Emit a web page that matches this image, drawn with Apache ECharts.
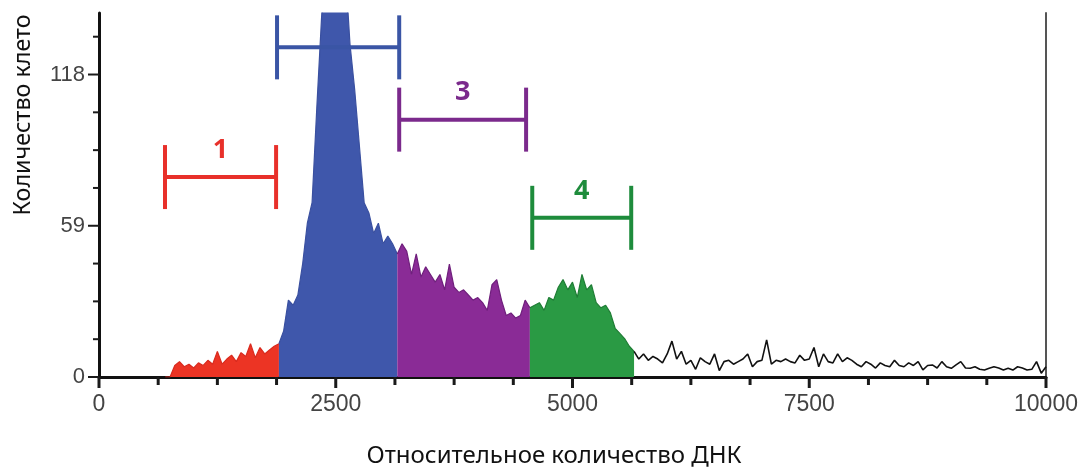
<!DOCTYPE html>
<html>
<head>
<meta charset="utf-8">
<script src="https://cdn.jsdelivr.net/npm/echarts@6/dist/echarts.min.js"></script>
<style>
html,body{margin:0;padding:0;background:#fff;}
#chart{width:1089px;height:472px;}
</style>
</head>
<body>
<div id="chart"></div>
<script>
// ---- data ----
var binWidth = 50;                 // DNA units per histogram bin
var redStart = 700;
var redCounts = [0, 0, 4.5, 6, 4, 5, 3.5, 5.5, 4.5, 6.5, 5, 10, 5, 7, 8.5, 6, 9.5, 8, 13, 7.5, 11.5, 9, 10.5, 12, 13];
var blueStart = 1900;
var blueCounts = [13, 18, 30, 28, 32, 44, 60, 68, 105, 140, 170, 185, 190, 180, 160, 130, 112, 90, 68, 64, 56, 60, 52, 55, 52, 48];
var purpleStart = 3150;
var purpleCounts = [48, 52, 49, 40, 48, 39, 43, 40, 37, 40, 34, 44, 35, 33, 34, 32, 30, 31, 29, 26, 36, 38, 30, 24, 25, 23, 24, 30, 27];
var greenStart = 4550;
var greenCounts = [27, 28, 29, 26, 31, 30, 35, 38, 34, 37, 31, 40, 34, 36, 29, 27, 28, 25, 19, 17, 15, 12, 10];
var tailStart = 5650;
var tailCounts = [10, 7, 9, 6.5, 8, 7, 5.5,
  9, 14, 7, 10, 5, 6.5, 3, 7.5, 6, 5,
  9, 2.5, 6, 6.5, 5, 6, 7, 9, 4, 6,
  6.5, 14.5, 5, 6.5, 6, 7, 6, 5.5, 8.5, 6.5,
  7, 11.5, 4, 9, 6, 5.5, 9, 6, 7.5, 6.5,
  5, 4, 6, 5, 3.5, 5.5, 4.5, 4, 6.5, 4.5,
  4, 5.5, 4.5, 6, 2.8, 4.5, 4.7, 3.5, 6, 4,
  3.4, 4.7, 6, 3.5, 3.4, 4, 3, 2.7, 3.4, 4,
  3.5, 2.7, 3.4, 2.7, 4, 3.5, 2.7, 3, 6, 1.5,
  4];

// gates (brackets): start, end, level (cell count), label
var gateStarts = [697, 1880, 3170, 4575];
var gateEnds = [1870, 3170, 4510, 5620];
var gateLevels = [78, 128.6, 100.4, 62.1];
var gateLabels = ['1', '', '3', '4'];

var xTickValues = [0, 2500, 5000, 7500, 10000];
var xMinorTickValues = [625, 1250, 1875, 3125, 3750, 4375, 5625, 6250, 6875, 8125, 8750, 9375];
var yTickValues = [0, 59, 118];
var yMinorTickValues = [14.75, 29.5, 44.25, 73.75, 88.5, 103.25, 132.75];
var xMin = 0, xMax = 10000, yMin = 0, yMax = 142;

var xTitle = 'Относительное количество ДНК';
var yTitle = 'Количество клето';

// ---- build ----
function toPoints(start, counts) {
  return counts.map(function (c, i) { return [start + i * binWidth, c]; });
}
var gateColors = ['#e8302a', '#3a55a5', '#7b2a8c', '#1e8c3c'];

function areaSeries(name, pts, fill, stroke) {
  return {
    name: name, type: 'line', data: pts, showSymbol: false, symbol: 'none',
    smooth: false, clip: true, animation: false, z: 2,
    lineStyle: { color: stroke, width: 1.2 },
    areaStyle: { color: fill, opacity: 1 }
  };
}

var MAJOR = 1, MINOR = 0;
var xTickData = xTickValues.map(function (v) { return [v, yMin, MAJOR]; })
  .concat(xMinorTickValues.map(function (v) { return [v, yMin, MINOR]; }));
var yTickData = yTickValues.map(function (v) { return [xMin, v, MAJOR]; })
  .concat(yMinorTickValues.map(function (v) { return [xMin, v, MINOR]; }));
var tickFill = { fill: '#1a1a1a' };

var gateData = gateStarts.map(function (s, i) { return [s, gateEnds[i], gateLevels[i], i]; });
var plain = function (v) { return String(v); };

var chart = echarts.init(document.getElementById('chart'), null, { renderer: 'canvas' });
chart.setOption({
  animation: false,
  backgroundColor: '#fff',
  grid: { left: 99, right: 43, top: 13, bottom: 95 },
  xAxis: [{
    type: 'value', min: xMin, max: xMax, position: 'bottom',
    axisLine: { show: true, onZero: false, lineStyle: { color: '#111', width: 3 } },
    axisTick: { show: false },
    axisLabel: { fontSize: 23, color: '#444', margin: 16, fontFamily: 'Liberation Sans',
      customValues: xTickValues, formatter: plain },
    splitLine: { show: false }
  }],
  yAxis: [{
    type: 'value', min: yMin, max: yMax, position: 'left',
    axisLine: { show: true, onZero: false, lineStyle: { color: '#111', width: 3 } },
    axisTick: { show: false },
    axisLabel: { fontSize: 22, color: '#444', margin: 14, fontFamily: 'Liberation Sans',
      customValues: yTickValues, formatter: plain },
    splitLine: { show: false }
  }, {
    type: 'value', min: yMin, max: yMax, position: 'right', offset: 0,
    axisLine: { show: true, onZero: false, lineStyle: { color: '#555', width: 2 } },
    axisTick: { show: false }, axisLabel: { show: false }, splitLine: { show: false }
  }],
  graphic: [{
    type: 'text', x: 23, y: 115, rotation: Math.PI / 2,
    style: { text: yTitle, fontSize: 23.3, fontFamily: 'Noto Sans', fill: '#111',
      align: 'center', verticalAlign: 'middle' }
  }, {
    type: 'text', x: 554, y: 456,
    style: { text: xTitle, fontSize: 24, fontFamily: 'Noto Sans', fill: '#111',
      align: 'center', verticalAlign: 'middle' }
  }],
  series: [
    areaSeries('1', toPoints(redStart, redCounts), '#ec3424', '#d92a1e'),
    areaSeries('2', toPoints(blueStart, blueCounts), '#3f57ab', '#3a50a0'),
    areaSeries('3', toPoints(purpleStart, purpleCounts), '#8a2b96', '#6f1f7c'),
    areaSeries('4', toPoints(greenStart, greenCounts), '#2a9a44', '#1f7d35'),
    {
      name: 'tail', type: 'line', data: toPoints(tailStart, tailCounts),
      showSymbol: false, symbol: 'none', animation: false, z: 2,
      lineStyle: { color: '#111', width: 1.6 }
    },
    {
      name: 'xTicks', type: 'custom', data: xTickData, clip: false, silent: true,
      z: 20, animation: false, encode: { x: 0, y: 1 },
      renderItem: function (params, api) {
        var p = api.coord([api.value(0), api.value(1)]);
        var len = api.value(2) === MAJOR ? 11 : 8;
        return { type: 'rect', shape: { x: p[0] - 1.5, y: p[1], width: 3, height: len }, style: tickFill, z2: 100 };
      }
    },
    {
      name: 'yTicks', type: 'custom', data: yTickData, clip: false, silent: true,
      z: 20, animation: false, encode: { x: 0, y: 1 },
      renderItem: function (params, api) {
        var p = api.coord([api.value(0), api.value(1)]);
        var len = api.value(2) === MAJOR ? 11 : 6;
        return { type: 'rect', shape: { x: p[0] - len, y: p[1] - 1, width: len, height: 2 }, style: tickFill, z2: 100 };
      }
    },
    {
      name: 'gates', type: 'custom', data: gateData, z: 5, animation: false,
      encode: { x: [0, 1], y: 2 },
      renderItem: function (params, api) {
        var a = api.coord([api.value(0), api.value(2)]);
        var b = api.coord([api.value(1), api.value(2)]);
        var idx = api.value(3);
        var col = gateColors[idx];
        var h = 32;
        var st = { stroke: col, lineWidth: 4 };
        var children = [
          { type: 'line', shape: { x1: a[0], y1: a[1], x2: b[0], y2: b[1] }, style: st },
          { type: 'line', shape: { x1: a[0], y1: a[1] - h, x2: a[0], y2: a[1] + h }, style: st },
          { type: 'line', shape: { x1: b[0], y1: b[1] - h, x2: b[0], y2: b[1] + h }, style: st }
        ];
        if (gateLabels[idx]) {
          children.push({ type: 'text', x: (a[0] + b[0]) / 2, y: a[1] - 27,
            style: { text: gateLabels[idx], fill: col, fontSize: 27, fontWeight: 'bold',
              fontFamily: 'Open Sans', align: 'center', verticalAlign: 'middle' } });
        }
        return { type: 'group', children: children };
      }
    }
  ]
});
</script>
</body>
</html>
